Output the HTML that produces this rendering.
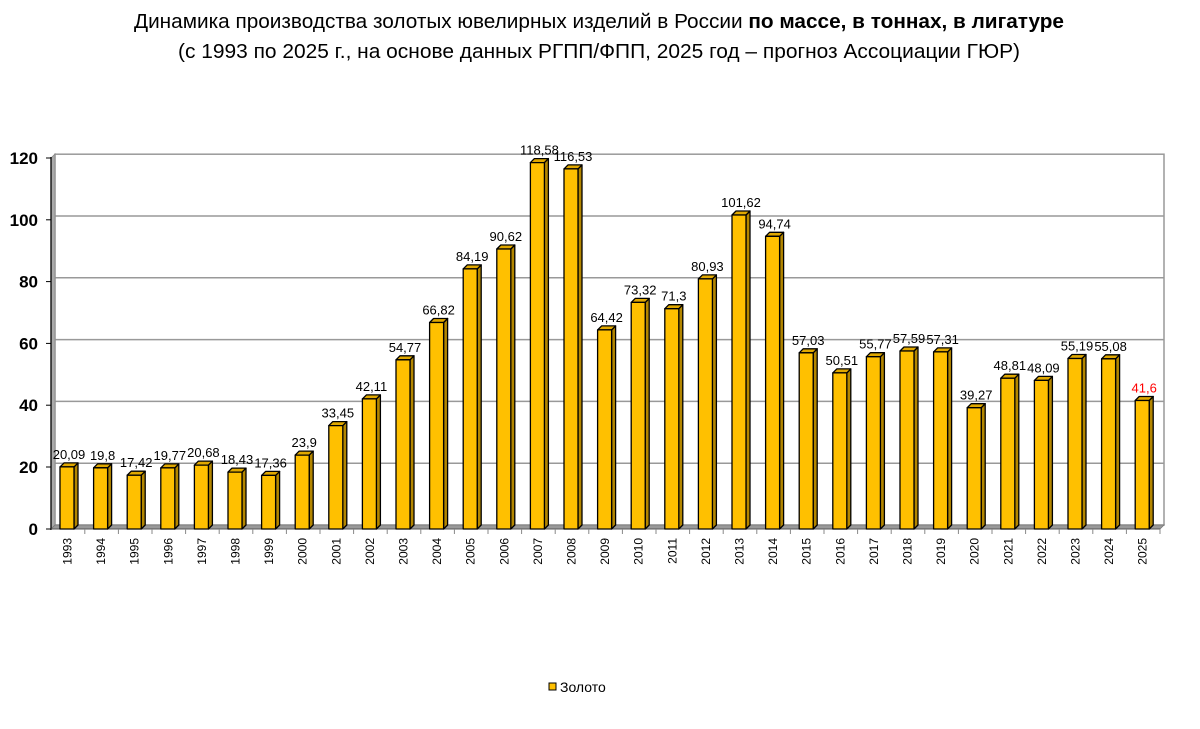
<!DOCTYPE html>
<html><head><meta charset="utf-8"><style>
html,body{margin:0;padding:0;background:#fff;}
svg{display:block;font-family:"Liberation Sans",Arial,sans-serif;}
</style></head><body>
<svg width="1200" height="729" viewBox="0 0 1200 729" xmlns="http://www.w3.org/2000/svg">
<text x="599" y="28" text-anchor="middle" font-size="20" textLength="930" lengthAdjust="spacingAndGlyphs">Динамика производства золотых ювелирных изделий в России <tspan font-weight="bold">по массе, в тоннах, в лигатуре</tspan></text>
<text x="599" y="58" text-anchor="middle" font-size="20" textLength="842" lengthAdjust="spacingAndGlyphs">(с 1993 по 2025 г., на основе данных РГПП/ФПП, 2025 год – прогноз Ассоциации ГЮР)</text>
<!-- back wall -->
<rect x="55" y="154.2" width="1109" height="370.8" fill="#fff" stroke="#999" stroke-width="1.5"/>
<g stroke="#999" stroke-width="1.5">
<line x1="55" y1="216" x2="1164" y2="216"/>
<line x1="55" y1="277.8" x2="1164" y2="277.8"/>
<line x1="55" y1="339.6" x2="1164" y2="339.6"/>
<line x1="55" y1="401.4" x2="1164" y2="401.4"/>
<line x1="55" y1="463.2" x2="1164" y2="463.2"/>
</g>
<polygon points="51,158 55,154 55,525 51,529" fill="#aaa" stroke="#888" stroke-width="0.8"/>
<polygon points="51,529 55,525 1164,525 1160,529" fill="#999" stroke="#777" stroke-width="0.8"/>
<line x1="51" y1="157" x2="51" y2="530" stroke="#000" stroke-width="1.3"/>
<line x1="51" y1="529" x2="1160" y2="529" stroke="#555" stroke-width="1"/>
<g stroke="#000" stroke-width="1">
<line x1="46" y1="158" x2="51" y2="158"/><line x1="46" y1="219.8" x2="51" y2="219.8"/><line x1="46" y1="281.6" x2="51" y2="281.6"/><line x1="46" y1="343.4" x2="51" y2="343.4"/><line x1="46" y1="405.2" x2="51" y2="405.2"/><line x1="46" y1="467" x2="51" y2="467"/><line x1="46" y1="529" x2="51" y2="529"/>
</g>
<g font-size="17" font-weight="bold" text-anchor="end">
<text x="38" y="164">120</text><text x="38" y="225.8">100</text><text x="38" y="287.6">80</text><text x="38" y="349.4">60</text><text x="38" y="411.2">40</text><text x="38" y="473">20</text><text x="38" y="535">0</text>
</g>
<g stroke="#888" stroke-width="1">
<line x1="84.8" y1="529" x2="84.8" y2="534"/><line x1="118.4" y1="529" x2="118.4" y2="534"/><line x1="152" y1="529" x2="152" y2="534"/><line x1="185.6" y1="529" x2="185.6" y2="534"/><line x1="219.2" y1="529" x2="219.2" y2="534"/><line x1="252.8" y1="529" x2="252.8" y2="534"/><line x1="286.4" y1="529" x2="286.4" y2="534"/><line x1="320" y1="529" x2="320" y2="534"/><line x1="353.6" y1="529" x2="353.6" y2="534"/><line x1="387.2" y1="529" x2="387.2" y2="534"/><line x1="420.8" y1="529" x2="420.8" y2="534"/><line x1="454.4" y1="529" x2="454.4" y2="534"/><line x1="488" y1="529" x2="488" y2="534"/><line x1="521.6" y1="529" x2="521.6" y2="534"/><line x1="555.2" y1="529" x2="555.2" y2="534"/><line x1="588.8" y1="529" x2="588.8" y2="534"/><line x1="622.4" y1="529" x2="622.4" y2="534"/><line x1="656" y1="529" x2="656" y2="534"/><line x1="689.6" y1="529" x2="689.6" y2="534"/><line x1="723.2" y1="529" x2="723.2" y2="534"/><line x1="756.8" y1="529" x2="756.8" y2="534"/><line x1="790.4" y1="529" x2="790.4" y2="534"/><line x1="824" y1="529" x2="824" y2="534"/><line x1="857.6" y1="529" x2="857.6" y2="534"/><line x1="891.2" y1="529" x2="891.2" y2="534"/><line x1="924.8" y1="529" x2="924.8" y2="534"/><line x1="958.4" y1="529" x2="958.4" y2="534"/><line x1="992" y1="529" x2="992" y2="534"/><line x1="1025.6" y1="529" x2="1025.6" y2="534"/><line x1="1059.2" y1="529" x2="1059.2" y2="534"/><line x1="1092.8" y1="529" x2="1092.8" y2="534"/><line x1="1126.4" y1="529" x2="1126.4" y2="534"/><line x1="1160" y1="529" x2="1160" y2="534"/>
</g>
<!-- bars -->
<g stroke="#000" stroke-width="1.3" stroke-linejoin="round">
<g transform="translate(60,466.9)"><polygon points="14,0 18,-4 18,58.1 14,62.1" fill="#B38600"/><polygon points="0,0 4,-4 18,-4 14,0" fill="#E0A800"/><rect x="0" y="0" width="14" height="62.1" fill="#FFC000"/></g>
<g transform="translate(93.6,467.8)"><polygon points="14,0 18,-4 18,57.2 14,61.2" fill="#B38600"/><polygon points="0,0 4,-4 18,-4 14,0" fill="#E0A800"/><rect x="0" y="0" width="14" height="61.2" fill="#FFC000"/></g>
<g transform="translate(127.2,475.2)"><polygon points="14,0 18,-4 18,49.8 14,53.8" fill="#B38600"/><polygon points="0,0 4,-4 18,-4 14,0" fill="#E0A800"/><rect x="0" y="0" width="14" height="53.8" fill="#FFC000"/></g>
<g transform="translate(160.8,467.9)"><polygon points="14,0 18,-4 18,57.1 14,61.1" fill="#B38600"/><polygon points="0,0 4,-4 18,-4 14,0" fill="#E0A800"/><rect x="0" y="0" width="14" height="61.1" fill="#FFC000"/></g>
<g transform="translate(194.4,465.1)"><polygon points="14,0 18,-4 18,59.9 14,63.9" fill="#B38600"/><polygon points="0,0 4,-4 18,-4 14,0" fill="#E0A800"/><rect x="0" y="0" width="14" height="63.9" fill="#FFC000"/></g>
<g transform="translate(228,472.1)"><polygon points="14,0 18,-4 18,52.9 14,56.9" fill="#B38600"/><polygon points="0,0 4,-4 18,-4 14,0" fill="#E0A800"/><rect x="0" y="0" width="14" height="56.9" fill="#FFC000"/></g>
<g transform="translate(261.6,475.4)"><polygon points="14,0 18,-4 18,49.6 14,53.6" fill="#B38600"/><polygon points="0,0 4,-4 18,-4 14,0" fill="#E0A800"/><rect x="0" y="0" width="14" height="53.6" fill="#FFC000"/></g>
<g transform="translate(295.2,455.1)"><polygon points="14,0 18,-4 18,69.9 14,73.9" fill="#B38600"/><polygon points="0,0 4,-4 18,-4 14,0" fill="#E0A800"/><rect x="0" y="0" width="14" height="73.9" fill="#FFC000"/></g>
<g transform="translate(328.8,425.6)"><polygon points="14,0 18,-4 18,99.4 14,103.4" fill="#B38600"/><polygon points="0,0 4,-4 18,-4 14,0" fill="#E0A800"/><rect x="0" y="0" width="14" height="103.4" fill="#FFC000"/></g>
<g transform="translate(362.4,398.9)"><polygon points="14,0 18,-4 18,126.1 14,130.1" fill="#B38600"/><polygon points="0,0 4,-4 18,-4 14,0" fill="#E0A800"/><rect x="0" y="0" width="14" height="130.1" fill="#FFC000"/></g>
<g transform="translate(396,359.8)"><polygon points="14,0 18,-4 18,165.2 14,169.2" fill="#B38600"/><polygon points="0,0 4,-4 18,-4 14,0" fill="#E0A800"/><rect x="0" y="0" width="14" height="169.2" fill="#FFC000"/></g>
<g transform="translate(429.6,322.5)"><polygon points="14,0 18,-4 18,202.5 14,206.5" fill="#B38600"/><polygon points="0,0 4,-4 18,-4 14,0" fill="#E0A800"/><rect x="0" y="0" width="14" height="206.5" fill="#FFC000"/></g>
<g transform="translate(463.2,268.9)"><polygon points="14,0 18,-4 18,256.1 14,260.1" fill="#B38600"/><polygon points="0,0 4,-4 18,-4 14,0" fill="#E0A800"/><rect x="0" y="0" width="14" height="260.1" fill="#FFC000"/></g>
<g transform="translate(496.8,249)"><polygon points="14,0 18,-4 18,276 14,280" fill="#B38600"/><polygon points="0,0 4,-4 18,-4 14,0" fill="#E0A800"/><rect x="0" y="0" width="14" height="280" fill="#FFC000"/></g>
<g transform="translate(530.4,162.6)"><polygon points="14,0 18,-4 18,362.4 14,366.4" fill="#B38600"/><polygon points="0,0 4,-4 18,-4 14,0" fill="#E0A800"/><rect x="0" y="0" width="14" height="366.4" fill="#FFC000"/></g>
<g transform="translate(564,168.9)"><polygon points="14,0 18,-4 18,356.1 14,360.1" fill="#B38600"/><polygon points="0,0 4,-4 18,-4 14,0" fill="#E0A800"/><rect x="0" y="0" width="14" height="360.1" fill="#FFC000"/></g>
<g transform="translate(597.6,329.9)"><polygon points="14,0 18,-4 18,195.1 14,199.1" fill="#B38600"/><polygon points="0,0 4,-4 18,-4 14,0" fill="#E0A800"/><rect x="0" y="0" width="14" height="199.1" fill="#FFC000"/></g>
<g transform="translate(631.2,302.4)"><polygon points="14,0 18,-4 18,222.6 14,226.6" fill="#B38600"/><polygon points="0,0 4,-4 18,-4 14,0" fill="#E0A800"/><rect x="0" y="0" width="14" height="226.6" fill="#FFC000"/></g>
<g transform="translate(664.8,308.7)"><polygon points="14,0 18,-4 18,216.3 14,220.3" fill="#B38600"/><polygon points="0,0 4,-4 18,-4 14,0" fill="#E0A800"/><rect x="0" y="0" width="14" height="220.3" fill="#FFC000"/></g>
<g transform="translate(698.4,278.9)"><polygon points="14,0 18,-4 18,246.1 14,250.1" fill="#B38600"/><polygon points="0,0 4,-4 18,-4 14,0" fill="#E0A800"/><rect x="0" y="0" width="14" height="250.1" fill="#FFC000"/></g>
<g transform="translate(732,215)"><polygon points="14,0 18,-4 18,310 14,314" fill="#B38600"/><polygon points="0,0 4,-4 18,-4 14,0" fill="#E0A800"/><rect x="0" y="0" width="14" height="314" fill="#FFC000"/></g>
<g transform="translate(765.6,236.3)"><polygon points="14,0 18,-4 18,288.7 14,292.7" fill="#B38600"/><polygon points="0,0 4,-4 18,-4 14,0" fill="#E0A800"/><rect x="0" y="0" width="14" height="292.7" fill="#FFC000"/></g>
<g transform="translate(799.2,352.8)"><polygon points="14,0 18,-4 18,172.2 14,176.2" fill="#B38600"/><polygon points="0,0 4,-4 18,-4 14,0" fill="#E0A800"/><rect x="0" y="0" width="14" height="176.2" fill="#FFC000"/></g>
<g transform="translate(832.8,372.9)"><polygon points="14,0 18,-4 18,152.1 14,156.1" fill="#B38600"/><polygon points="0,0 4,-4 18,-4 14,0" fill="#E0A800"/><rect x="0" y="0" width="14" height="156.1" fill="#FFC000"/></g>
<g transform="translate(866.4,356.7)"><polygon points="14,0 18,-4 18,168.3 14,172.3" fill="#B38600"/><polygon points="0,0 4,-4 18,-4 14,0" fill="#E0A800"/><rect x="0" y="0" width="14" height="172.3" fill="#FFC000"/></g>
<g transform="translate(900,351)"><polygon points="14,0 18,-4 18,174 14,178" fill="#B38600"/><polygon points="0,0 4,-4 18,-4 14,0" fill="#E0A800"/><rect x="0" y="0" width="14" height="178" fill="#FFC000"/></g>
<g transform="translate(933.6,351.9)"><polygon points="14,0 18,-4 18,173.1 14,177.1" fill="#B38600"/><polygon points="0,0 4,-4 18,-4 14,0" fill="#E0A800"/><rect x="0" y="0" width="14" height="177.1" fill="#FFC000"/></g>
<g transform="translate(967.2,407.7)"><polygon points="14,0 18,-4 18,117.3 14,121.3" fill="#B38600"/><polygon points="0,0 4,-4 18,-4 14,0" fill="#E0A800"/><rect x="0" y="0" width="14" height="121.3" fill="#FFC000"/></g>
<g transform="translate(1000.8,378.2)"><polygon points="14,0 18,-4 18,146.8 14,150.8" fill="#B38600"/><polygon points="0,0 4,-4 18,-4 14,0" fill="#E0A800"/><rect x="0" y="0" width="14" height="150.8" fill="#FFC000"/></g>
<g transform="translate(1034.4,380.4)"><polygon points="14,0 18,-4 18,144.6 14,148.6" fill="#B38600"/><polygon points="0,0 4,-4 18,-4 14,0" fill="#E0A800"/><rect x="0" y="0" width="14" height="148.6" fill="#FFC000"/></g>
<g transform="translate(1068,358.5)"><polygon points="14,0 18,-4 18,166.5 14,170.5" fill="#B38600"/><polygon points="0,0 4,-4 18,-4 14,0" fill="#E0A800"/><rect x="0" y="0" width="14" height="170.5" fill="#FFC000"/></g>
<g transform="translate(1101.6,358.8)"><polygon points="14,0 18,-4 18,166.2 14,170.2" fill="#B38600"/><polygon points="0,0 4,-4 18,-4 14,0" fill="#E0A800"/><rect x="0" y="0" width="14" height="170.2" fill="#FFC000"/></g>
<g transform="translate(1135.2,400.5)"><polygon points="14,0 18,-4 18,124.5 14,128.5" fill="#B38600"/><polygon points="0,0 4,-4 18,-4 14,0" fill="#E0A800"/><rect x="0" y="0" width="14" height="128.5" fill="#FFC000"/></g>
</g>
<!-- value labels -->
<g font-size="13" text-anchor="middle">
<text x="69" y="458.9">20,09</text><text x="102.6" y="459.8">19,8</text><text x="136.2" y="467.2">17,42</text><text x="169.8" y="459.9">19,77</text><text x="203.4" y="457.1">20,68</text><text x="237" y="464.1">18,43</text><text x="270.6" y="467.4">17,36</text><text x="304.2" y="447.1">23,9</text><text x="337.8" y="417.6">33,45</text><text x="371.4" y="390.9">42,11</text><text x="405" y="351.8">54,77</text><text x="438.6" y="314.5">66,82</text><text x="472.2" y="260.9">84,19</text><text x="505.8" y="241">90,62</text><text x="539.4" y="154.6">118,58</text><text x="573" y="160.9">116,53</text><text x="606.6" y="321.9">64,42</text><text x="640.2" y="294.4">73,32</text><text x="673.8" y="300.7">71,3</text><text x="707.4" y="270.9">80,93</text><text x="741" y="207">101,62</text><text x="774.6" y="228.3">94,74</text><text x="808.2" y="344.8">57,03</text><text x="841.8" y="364.9">50,51</text><text x="875.4" y="348.7">55,77</text><text x="909" y="343">57,59</text><text x="942.6" y="343.9">57,31</text><text x="976.2" y="399.7">39,27</text><text x="1009.8" y="370.2">48,81</text><text x="1043.4" y="372.4">48,09</text><text x="1077" y="350.5">55,19</text><text x="1110.6" y="350.8">55,08</text><text x="1144.2" y="392.5" fill="#FF0000">41,6</text>
</g>
<!-- year labels -->
<g font-size="12" text-anchor="end">
<text transform="translate(71.5,538) rotate(-90)">1993</text><text transform="translate(105.1,538) rotate(-90)">1994</text><text transform="translate(138.7,538) rotate(-90)">1995</text><text transform="translate(172.3,538) rotate(-90)">1996</text><text transform="translate(205.9,538) rotate(-90)">1997</text><text transform="translate(239.5,538) rotate(-90)">1998</text><text transform="translate(273.1,538) rotate(-90)">1999</text><text transform="translate(306.7,538) rotate(-90)">2000</text><text transform="translate(340.3,538) rotate(-90)">2001</text><text transform="translate(373.9,538) rotate(-90)">2002</text><text transform="translate(407.5,538) rotate(-90)">2003</text><text transform="translate(441.1,538) rotate(-90)">2004</text><text transform="translate(474.7,538) rotate(-90)">2005</text><text transform="translate(508.3,538) rotate(-90)">2006</text><text transform="translate(541.9,538) rotate(-90)">2007</text><text transform="translate(575.5,538) rotate(-90)">2008</text><text transform="translate(609.1,538) rotate(-90)">2009</text><text transform="translate(642.7,538) rotate(-90)">2010</text><text transform="translate(676.3,538) rotate(-90)">2011</text><text transform="translate(709.9,538) rotate(-90)">2012</text><text transform="translate(743.5,538) rotate(-90)">2013</text><text transform="translate(777.1,538) rotate(-90)">2014</text><text transform="translate(810.7,538) rotate(-90)">2015</text><text transform="translate(844.3,538) rotate(-90)">2016</text><text transform="translate(877.9,538) rotate(-90)">2017</text><text transform="translate(911.5,538) rotate(-90)">2018</text><text transform="translate(945.1,538) rotate(-90)">2019</text><text transform="translate(978.7,538) rotate(-90)">2020</text><text transform="translate(1012.3,538) rotate(-90)">2021</text><text transform="translate(1045.9,538) rotate(-90)">2022</text><text transform="translate(1079.5,538) rotate(-90)">2023</text><text transform="translate(1113.1,538) rotate(-90)">2024</text><text transform="translate(1146.7,538) rotate(-90)">2025</text>
</g>
<!-- legend -->
<rect x="549" y="683" width="7" height="7" fill="#FFC000" stroke="#000" stroke-width="1"/>
<text x="560" y="692" font-size="14">Золото</text>
</svg>
</body></html>
